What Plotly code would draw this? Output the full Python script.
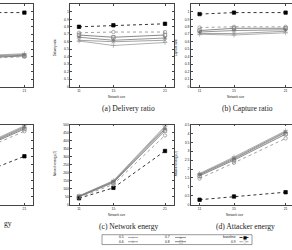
import plotly.graph_objects as go

W, H = 292, 250

network_sizes = [11, 15, 21]
series_names = ["0.5", "0.6", "0.7", "0.8", "baseline", "0.9"]

# partially visible panels on the left edge
left_top_ratio = {
    "0.5": [0.40, 0.41, 0.44],
    "0.6": [0.39, 0.40, 0.43],
    "0.7": [0.38, 0.39, 0.42],
    "0.8": [0.37, 0.38, 0.41],
    "baseline": [0.98, 0.99, 0.99],
    "0.9": [0.36, 0.37, 0.40],
}
left_bottom_energy = {
    "0.5": [110, 345, 492],
    "0.6": [108, 340, 486],
    "0.7": [105, 335, 480],
    "0.8": [102, 330, 472],
    "baseline": [60, 175, 302],
    "0.9": [95, 318, 458],
}
delivery_ratio = {
    "0.5": [0.61, 0.55, 0.59],
    "0.6": [0.62, 0.60, 0.62],
    "0.7": [0.66, 0.62, 0.65],
    "0.8": [0.69, 0.66, 0.69],
    "baseline": [0.80, 0.82, 0.84],
    "0.9": [0.72, 0.73, 0.73],
}
capture_ratio = {
    "0.5": [0.70, 0.69, 0.72],
    "0.6": [0.71, 0.71, 0.74],
    "0.7": [0.73, 0.75, 0.76],
    "0.8": [0.75, 0.78, 0.78],
    "baseline": [0.97, 0.99, 0.99],
    "0.9": [0.79, 0.80, 0.80],
}
network_energy = {
    "0.5": [55, 150, 490],
    "0.6": [54, 147, 482],
    "0.7": [52, 143, 472],
    "0.8": [49, 138, 462],
    "baseline": [40, 105, 335],
    "0.9": [45, 127, 432],
}
attacker_energy = {
    "0.5": [1.75, 2.68, 4.15],
    "0.6": [1.72, 2.62, 4.10],
    "0.7": [1.68, 2.57, 4.05],
    "0.8": [1.62, 2.50, 3.96],
    "baseline": [0.28, 0.46, 0.70],
    "0.9": [1.47, 2.35, 3.72],
}

ratio_ticks = [0, 0.1, 0.2, 0.3, 0.4, 0.5, 0.6, 0.7, 0.8, 0.9, 1]
ratio_labels = ["0", "0.1", "0.2", "0.3", "0.4", "0.5", "0.6", "0.7", "0.8", "0.9", "1"]
net_ticks = [0, 50, 100, 150, 200, 250, 300, 350, 400, 450, 500]
net_labels = [str(v) for v in net_ticks]
att_ticks = [0, 0.5, 1, 1.5, 2, 2.5, 3, 3.5, 4, 4.5]
att_labels = ["0", "0.5", "1", "1.5", "2", "2.5", "3", "3.5", "4", "4.5"]

styles = {
    "0.5": dict(color="#9c9c9c", dash="solid", symbol="cross-thin-open", glyph="+"),
    "0.6": dict(color="#8c8c8c", dash="solid", symbol="x-thin-open", glyph="×"),
    "0.7": dict(color="#7a7a7a", dash="solid", symbol="asterisk-open", glyph="∗"),
    "0.8": dict(color="#6a6a6a", dash="solid", symbol="square-open", glyph="□"),
    "baseline": dict(color="#000000", dash="dot", symbol="square", glyph="■"),
    "0.9": dict(color="#8a8a8a", dash="dot", symbol="circle-open", glyph="○"),
}

SANS = "Liberation Sans"
SERIF = "Liberation Serif"
TXT = "#222222"
AX = "#444444"


def fx(px):
    return px / W


def fy(py):
    return 1 - py / H


# panel layout (pixel boxes): x0, x1, ybottom, ytop
PX = 8.6
panels = [
    dict(data=left_top_ratio, xd=(0, 33), yd=(86, 2.4), xr=(22 - 33 / PX, 22), yr=(0, 1.1),
         kind="left", tv=ratio_ticks, tt=ratio_labels),
    dict(data=delivery_ratio, xd=(70.4, 173.6), yd=(86, 2.4), xr=(10, 22), yr=(0, 1.1),
         kind="full", tv=ratio_ticks, tt=ratio_labels),
    dict(data=capture_ratio, xd=(191, 292), yd=(86, 2.4), xr=(10, 10 + 101 / PX), yr=(0, 1.1),
         kind="right", tv=ratio_ticks, tt=ratio_labels),
    dict(data=left_bottom_energy, xd=(0, 33), yd=(206, 124.5), xr=(22 - 33 / PX, 22), yr=(0, 500),
         kind="left", tv=net_ticks, tt=net_labels),
    dict(data=network_energy, xd=(70.4, 173.6), yd=(206, 124.5), xr=(10, 22), yr=(0, 500),
         kind="full", tv=net_ticks, tt=net_labels),
    dict(data=attacker_energy, xd=(191, 292), yd=(206, 124.5), xr=(10, 10 + 101 / PX), yr=(0, 4.5),
         kind="right", tv=att_ticks, tt=att_labels),
]

fig = go.Figure()
layout = dict(
    width=W, height=H, autosize=False,
    margin=dict(l=0, r=0, t=0, b=0),
    paper_bgcolor="white", plot_bgcolor="white",
    showlegend=False,
)

tickfont = dict(family=SANS, size=3.4, color=TXT)

for i, p in enumerate(panels, start=1):
    xa = "x" if i == 1 else f"x{i}"
    ya = "y" if i == 1 else f"y{i}"
    for name in series_names:
        st = styles[name]
        fig.add_trace(go.Scatter(
            x=network_sizes, y=p["data"][name], xaxis=xa, yaxis=ya,
            mode="lines+markers", name=name, cliponaxis=True,
            line=dict(color=st["color"], width=0.8, dash=st["dash"]),
            marker=dict(symbol=st["symbol"], size=3.4, color=st["color"],
                        line=dict(color=st["color"], width=0.7)),
        ))
    xkey = "xaxis" if i == 1 else f"xaxis{i}"
    ykey = "yaxis" if i == 1 else f"yaxis{i}"
    layout[xkey] = dict(
        domain=[fx(p["xd"][0]), fx(p["xd"][1])], range=list(p["xr"]), anchor=ya,
        tickvals=network_sizes, ticktext=[str(v) for v in network_sizes],
        ticks="inside", ticklen=2, tickwidth=0.6, tickcolor=AX,
        showline=True, linecolor=AX, linewidth=0.8, mirror="allticks",
        showgrid=False, zeroline=False, tickfont=tickfont,
    )
    yd = dict(
        domain=[fy(p["yd"][0]), fy(p["yd"][1])], range=list(p["yr"]), anchor=xa,
        tickvals=p["tv"], ticktext=p["tt"],
        ticks="inside", ticklen=2, tickwidth=0.6, tickcolor=AX,
        showline=True, linecolor=AX, linewidth=0.8,
        showgrid=False, zeroline=False, tickfont=tickfont,
    )
    if p["kind"] == "full":
        yd["mirror"] = "allticks"
    elif p["kind"] == "left":
        yd["side"] = "right"
        yd["showticklabels"] = False
        yd["mirror"] = False
    else:
        yd["mirror"] = False
    layout[ykey] = yd

annotations = []


def add_text(text, px, py, size, family=SANS, angle=0, xanchor="center"):
    annotations.append(dict(
        text=text, x=fx(px), y=fy(py), xref="paper", yref="paper",
        xanchor=xanchor, yanchor="middle", showarrow=False, textangle=angle,
        font=dict(family=family, size=size, color=TXT),
    ))


# axis titles
for px, py, t in [(55, 46, "Delivery ratio"), (176, 46, "Capture ratio"),
                  (55, 165, "Network energy (J)"), (176, 165, "Attacker energy (J)")]:
    add_text(t, px, py, 3.0, angle=-90)
for px, py in [(117, 97), (236, 97), (117, 216.5), (235, 216.5)]:
    add_text("Network size", px, py, 3.0)

# sub-captions
add_text("(a) Delivery ratio", 128, 108, 7.6, family=SERIF)
add_text("(b) Capture ratio", 247, 108, 7.6, family=SERIF)
add_text("(c) Network energy", 129, 228, 7.6, family=SERIF)
add_text("(d) Attacker energy", 245, 228, 7.6, family=SERIF)
add_text("gy", 1.5, 225, 7.6, family=SERIF, xanchor="left")

# legend (gnuplot style: label, then sample)
shapes = [dict(type="rect", xref="paper", yref="paper",
               x0=fx(102), x1=fx(252), y0=fy(246.5), y1=fy(236.5),
               line=dict(color="#555555", width=0.6), fillcolor="rgba(0,0,0,0)")]
legend_layout = [("0.5", 0, 0), ("0.6", 0, 1), ("0.7", 1, 0), ("0.8", 1, 1),
                 ("baseline", 2, 0), ("0.9", 2, 1)]
col_label_right = [126, 172, 238]
col_sample = [(128, 138), (175, 186), (239.5, 249.5)]
row_y = [239.3, 243.6]
for name, c, r in legend_layout:
    st = styles[name]
    yy = row_y[r]
    add_text(name, col_label_right[c], yy, 3.4, xanchor="right")
    s0, s1 = col_sample[c]
    shapes.append(dict(type="line", xref="paper", yref="paper",
                       x0=fx(s0), x1=fx(s1), y0=fy(yy), y1=fy(yy),
                       line=dict(color=st["color"], width=0.8, dash=st["dash"])))
    annotations.append(dict(
        text=st["glyph"], x=fx((s0 + s1) / 2), y=fy(yy), xref="paper", yref="paper",
        xanchor="center", yanchor="middle", showarrow=False,
        font=dict(family="DejaVu Sans", size=4.2, color=st["color"]),
    ))

layout["annotations"] = annotations
layout["shapes"] = shapes
fig.update_layout(**layout)
fig.write_html("out.html", config={"displayModeBar": False})
